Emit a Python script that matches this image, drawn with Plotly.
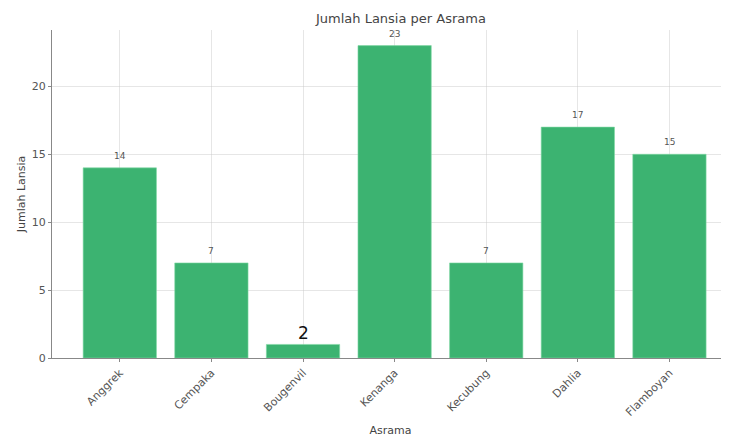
import plotly.graph_objects as go

asrama = ["Anggrek", "Cempaka", "Bougenvil", "Kenanga", "Kecubung", "Dahlia", "Flamboyan"]
jumlah = [14, 7, 1, 23, 7, 17, 15]
label_teks = ["14", "7", "2", "23", "7", "17", "15"]
yticks = [0, 5, 10, 15, 20]

fig = go.Figure()
fig.add_trace(go.Bar(
    x=list(range(len(asrama))), y=jumlah, width=0.8,
    marker=dict(color="#3CB371", line=dict(color="#7fd9a4", width=0.6)),
    showlegend=False, hoverinfo="skip",
))

for i, (v, t) in enumerate(zip(jumlah, label_teks)):
    if t != str(v):
        fig.add_annotation(x=i, y=v, text=t, showarrow=False, yanchor="bottom", yshift=-1,
                           font=dict(size=17, color="#111111", family="DejaVu Sans"))
    else:
        fig.add_annotation(x=i, y=v, text=t, showarrow=False, yanchor="bottom", yshift=5,
                           font=dict(size=9, color="#555555", family="DejaVu Sans"))

fig.update_layout(
    width=721, height=434,
    margin=dict(l=44, r=0, t=22, b=84),
    paper_bgcolor="white", plot_bgcolor="white",
    font=dict(family="DejaVu Sans", color="#555555"),
    title=dict(text="Jumlah Lansia per Asrama", x=0.545, xanchor="center", y=0.977, yanchor="middle",
               font=dict(size=13, color="#444444")),
    xaxis=dict(
        tickmode="array", tickvals=list(range(len(asrama))), ticktext=asrama,
        tickangle=-45, tickfont=dict(size=11, color="#555555"),
        range=[-0.74, 6.65], showgrid=True, gridcolor="rgba(200,200,200,0.45)", gridwidth=1,
        showline=True, linecolor="#888888", linewidth=1.2,
        ticks="outside", ticklen=3, tickcolor="#888888",
        title=dict(text="Asrama", font=dict(size=11, color="#444444"), standoff=8),
        layer="above traces", zeroline=False,
    ),
    yaxis=dict(
        tickmode="array", tickvals=yticks, ticktext=[str(t) for t in yticks],
        tickfont=dict(size=11, color="#555555"),
        range=[0, 24.15], showgrid=True, gridcolor="rgba(200,200,200,0.45)", gridwidth=1,
        showline=True, linecolor="#888888", linewidth=1.2,
        ticks="outside", ticklen=3, tickcolor="#888888",
        title=dict(text="Jumlah Lansia", font=dict(size=11, color="#444444"), standoff=3),
        layer="above traces", zeroline=False,
    ),
)

fig.write_html("out.html")
